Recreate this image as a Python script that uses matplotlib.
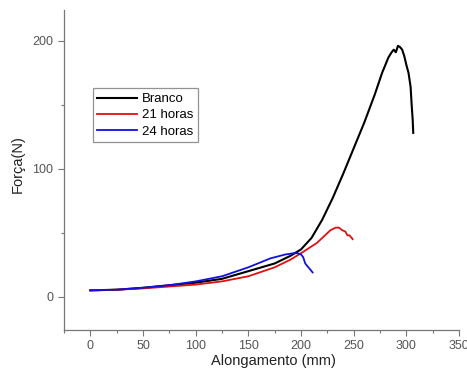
import matplotlib
matplotlib.use("Agg")
import matplotlib.pyplot as plt
from matplotlib.ticker import MultipleLocator

plt.rcParams["font.family"] = ["Liberation Sans", "DejaVu Sans"]

# Branco (black)
branco_x = [0, 25, 50, 75, 100, 125, 150, 175, 190, 200, 210, 220, 230, 240, 250, 260,
            270, 277, 283, 286, 288, 290, 292, 294, 296, 298, 300, 302, 304, 305, 306, 306.5]
branco_y = [5, 5.5, 7, 9, 11, 14, 20, 26, 32, 37, 46, 60, 77, 96, 116, 136,
            158, 175, 187, 191, 193, 191, 196, 195, 193, 188, 181, 175, 164, 150, 138, 128]

# 21 horas (red)
h21_x = [0, 25, 50, 75, 100, 125, 150, 175, 190, 200, 215, 228, 233, 236, 239, 242, 244, 246, 248, 249]
h21_y = [5, 5.5, 6.5, 8, 9.5, 12, 16, 23, 29, 34, 42, 52, 54, 54, 52, 51, 48, 48, 46, 45]

# 24 horas (blue)
h24_x = [0, 25, 50, 75, 100, 125, 150, 171, 185, 193, 197, 200, 202, 204, 208, 211]
h24_y = [5, 5.5, 7, 9, 12, 16, 23, 30, 33, 34, 34, 33, 31, 26, 22, 19]

grey = "#777777"
fig = plt.figure(figsize=(4.67, 3.70), dpi=100)
ax = fig.add_axes([0.137, 0.108, 0.846, 0.865])

ax.plot(branco_x, branco_y, color="black", linewidth=1.5, label="Branco")
ax.plot(h21_x, h21_y, color="#e01010", linewidth=1.3, label="21 horas")
ax.plot(h24_x, h24_y, color="#1010e0", linewidth=1.3, label="24 horas")

ax.set_xlim(-25, 350)
ax.set_ylim(-26, 224)
ax.xaxis.set_major_locator(MultipleLocator(50))
ax.xaxis.set_minor_locator(MultipleLocator(25))
ax.yaxis.set_major_locator(MultipleLocator(100))
ax.yaxis.set_minor_locator(MultipleLocator(50))
ax.tick_params(which="major", direction="out", length=4, width=0.8, color=grey,
               labelcolor="#555555", labelsize=9)
ax.tick_params(which="minor", direction="out", length=2.5, width=0.8, color=grey)
for s in ["top", "right"]:
    ax.spines[s].set_visible(False)
for s in ["left", "bottom"]:
    ax.spines[s].set_color(grey)
    ax.spines[s].set_linewidth(0.9)

ax.set_xlabel("Alongamento (mm)", fontsize=10.5, color="#222222", labelpad=2)
ax.xaxis.set_label_coords(0.53, -0.075)
ax.set_ylabel("Força(N)", fontsize=10.5, color="#222222", labelpad=6)
ax.yaxis.set_label_coords(-0.1, 0.52)

leg = ax.legend(loc="upper left", bbox_to_anchor=(0.073, 0.755), fontsize=9.5,
                frameon=True, fancybox=False, handlelength=3.0, handletextpad=0.4,
                borderpad=0.35, labelspacing=0.3, borderaxespad=0)
leg.get_frame().set_edgecolor(grey)
leg.get_frame().set_linewidth(0.9)

fig.savefig("out.png", dpi=100)
